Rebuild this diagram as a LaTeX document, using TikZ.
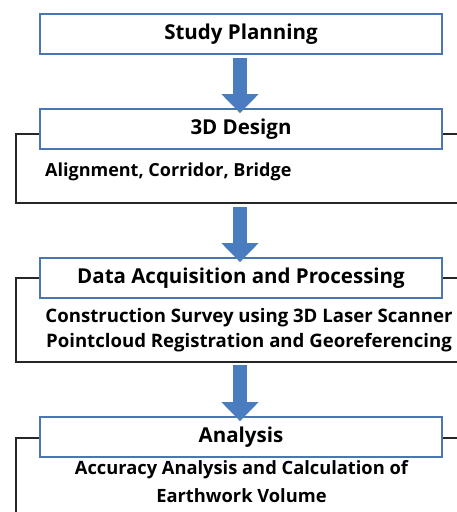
\documentclass[tikz,border=0pt]{standalone}
\usepackage{fontspec}
\setmainfont{Open Sans}
\usetikzlibrary{arrows.meta}
\definecolor{hdrblue}{HTML}{4A76B4}
\definecolor{arrblue}{HTML}{4A7CC0}
\tikzset{
  x=1pt, y=-1pt,
  header/.style={draw=hdrblue, line width=1.8pt, fill=white, minimum width=402pt,
    minimum height=40pt, inner sep=0pt, font=\bfseries\fontsize{20.5}{22}\selectfont},
  frame/.style={draw=black!85, line width=1.8pt},
  body/.style={inner sep=0pt, align=center},
  blockarrow/.style={draw=arrblue, line width=14pt,
    -{Triangle[width=36pt,length=19pt]}},
}
\begin{document}
\begin{tikzpicture}
\useasboundingbox (0,0) rectangle (457,512);
\clip (0,0) rectangle (457,512);
% outer frames behind the headers
\draw[frame] (480,134) -- (16,134) -- (16,203) -- (480,203);
\draw[frame] (480,278) -- (16,278) -- (16,362) -- (480,362);
\draw[frame] (480,438) -- (16,438) -- (16,530);
% stage headers
\node[header] (plan) at (241,34) {Study Planning};
\node[header] (design) at (241,129) {3D Design};
\node[header] (data) at (241,278) {Data Acquisition and Processing};
\node[header] (anal) at (241,437) {Analysis};
% stage details
\node[body, anchor=west, font=\bfseries\fontsize{18}{20}\selectfont] (designtxt) at (45,172) {Alignment, Corridor, Bridge};
\node[body, font=\bfseries\fontsize{18.6}{25}\selectfont] (datatxt) at (249,330) {Construction Survey using 3D Laser Scanner\\Pointcloud Registration and Georeferencing};
\node[body, font=\bfseries\fontsize{18.3}{28}\selectfont] (analtxt) at (241.5,482) {Accuracy Analysis and Calculation of\\Earthwork Volume};
% flow arrows
\coordinate (a1) at (240,58);
\coordinate (a2) at (240,207);
\coordinate (a3) at (240,365);
\draw[blockarrow] (a1) -- ([yshift=-5pt]design.north -| a1);
\draw[blockarrow] (a2) -- ([yshift=-5pt]data.north -| a2);
\draw[blockarrow] (a3) -- ([yshift=-5pt]anal.north -| a3);
\end{tikzpicture}
\end{document}
